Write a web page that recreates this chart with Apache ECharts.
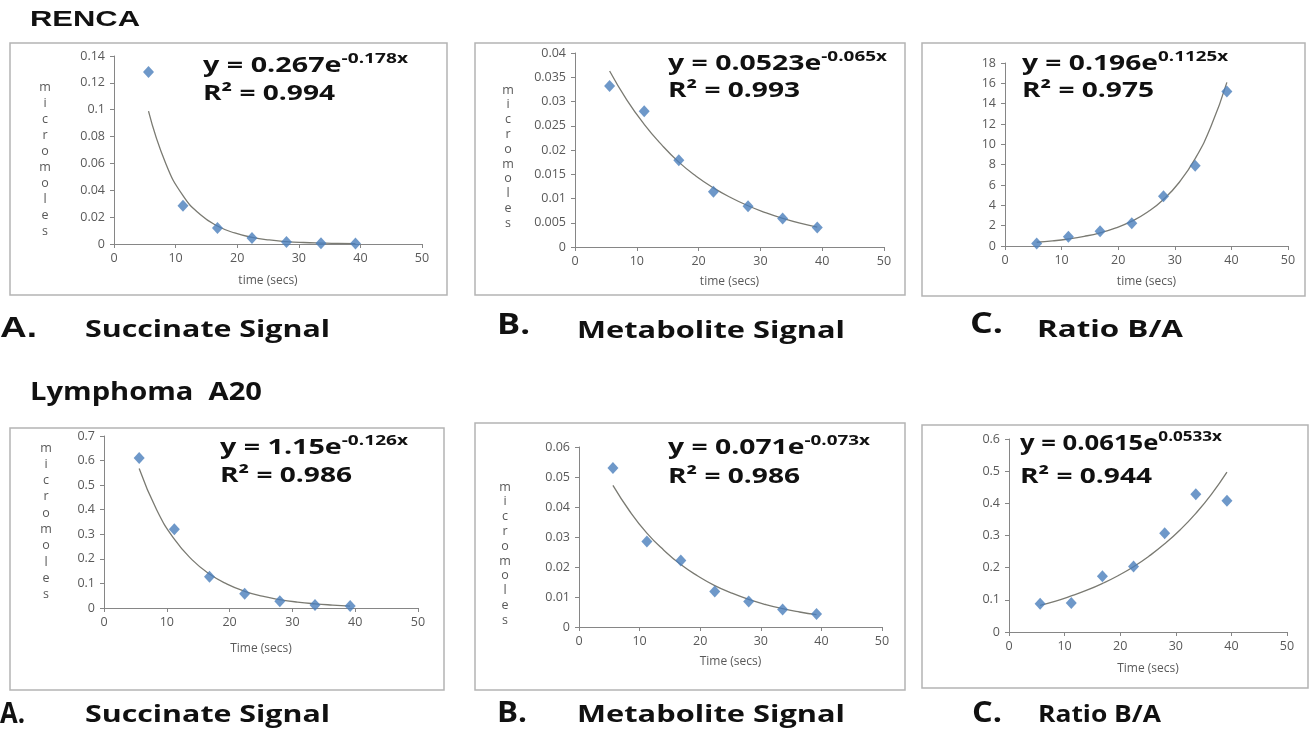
<!DOCTYPE html>
<html>
<head>
<meta charset="utf-8">
<script src="https://cdn.jsdelivr.net/npm/echarts@6.0.0/dist/echarts.min.js"></script>
<style>
  html, body { margin: 0; padding: 0; background: #fff; }
  #main { width: 1314px; height: 729px; }
</style>
</head>
<body>
<div id="main"></div>
<script>
// sample times (secs)
const time = [5.6, 11.2, 16.8, 22.4, 28, 33.6, 39.2];

// measured points, micromoles / ratio
const rencaSuccinate = [0.128, 0.0285, 0.012, 0.0045, 0.0015, 0.0005, 0.0003];
const rencaMetabolite = [0.0332, 0.028, 0.0179, 0.0114, 0.0084, 0.0059, 0.004];
const rencaRatio = [0.25, 0.9, 1.45, 2.25, 4.9, 7.9, 15.2];
const a20Succinate = [0.61, 0.32, 0.127, 0.058, 0.027, 0.012, 0.008];
const a20Metabolite = [0.053, 0.0285, 0.0222, 0.0118, 0.0085, 0.0058, 0.0043];
const a20Ratio = [0.088, 0.09, 0.173, 0.204, 0.307, 0.428, 0.408];

// trendline
const fitTime = [5.6, 8.4, 11.2, 14, 16.8, 19.6, 22.4, 25.2, 28, 30.8, 33.6, 36.4, 39.2];
const rencaSuccinateFit = [0.099, 0.060, 0.036, 0.022, 0.0134, 0.0082, 0.005, 0.003, 0.0018, 0.0011, 0.0007, 0.0004, 0.0003];
const rencaMetaboliteFit = [0.0363, 0.0303, 0.0253, 0.0211, 0.0175, 0.0146, 0.0122, 0.0102, 0.0085, 0.0071, 0.0059, 0.0049, 0.0041];
const rencaRatioFit = [0.37, 0.5, 0.69, 0.95, 1.3, 1.78, 2.44, 3.34, 4.57, 6.27, 8.59, 11.77, 16.1];
const a20SuccinateFit = [0.568, 0.399, 0.28, 0.197, 0.138, 0.097, 0.068, 0.048, 0.034, 0.024, 0.017, 0.012, 0.008];
const a20MetaboliteFit = [0.0472, 0.0385, 0.0313, 0.0256, 0.0208, 0.017, 0.0138, 0.0113, 0.0092, 0.0075, 0.0061, 0.005, 0.0041];
const a20RatioFit = [0.083, 0.096, 0.112, 0.13, 0.151, 0.175, 0.203, 0.236, 0.274, 0.318, 0.369, 0.428, 0.497];

// y axis ticks
const yMax = [0.14, 0.04, 18, 0.7, 0.06, 0.6];
const yStep = [0.02, 0.005, 2, 0.1, 0.01, 0.1];
const xMax = 50, xStep = 10;

// trendline equations (main, exponent, r2)
const equations = [
    ['y = 0.267e', '-0.178x', 'R\u00b2 = 0.994'],
    ['y = 0.0523e', '-0.065x', 'R\u00b2 = 0.993'],
    ['y = 0.196e', '0.1125x', 'R\u00b2 = 0.975'],
    ['y = 1.15e', '-0.126x', 'R\u00b2 = 0.986'],
    ['y = 0.071e', '-0.073x', 'R\u00b2 = 0.986'],
    ['y = 0.0615e', '0.0533x', 'R\u00b2 = 0.944']
];

const points = [rencaSuccinate, rencaMetabolite, rencaRatio, a20Succinate, a20Metabolite, a20Ratio];
const fits = [rencaSuccinateFit, rencaMetaboliteFit, rencaRatioFit, a20SuccinateFit, a20MetaboliteFit, a20RatioFit];

// panel layout: grid [l,t,w,h], box, equation [x, cy1, cy2, w1, w2], micromoles [x, y, step]
const layout = [
    { grid: [114, 56, 308, 188], box: [10, 43, 437, 252], eq: [203, 66, 94, 205, 132], yName: [45, 87, 16], xGap: 31, xName: 'time (secs)' },
    { grid: [575, 53, 309, 194], box: [475, 43, 430, 252], eq: [668, 64, 91, 219, 132], yName: [508, 90, 14.8], xGap: 29, xName: 'time (secs)' },
    { grid: [1005, 63, 283, 183], box: [922, 43, 383, 253], eq: [1022, 64, 91, 206, 132], yName: null, xGap: 30, xName: 'time (secs)' },
    { grid: [104, 436, 314, 172], box: [10, 428, 434, 262], eq: [220, 448, 476, 188, 132], yName: [46, 448, 16.3], xGap: 35, xName: 'Time (secs)' },
    { grid: [579, 447, 303, 180], box: [475, 423, 430, 267], eq: [668, 448, 477, 202, 132], yName: [505, 487, 14.8], xGap: 29, xName: 'Time (secs)' },
    { grid: [1009, 439, 278, 193], box: [922, 425, 386, 263], eq: [1020, 444, 477, 202, 132], yName: null, xGap: 31, xName: 'Time (secs)' }
];

// headings: text, x, cy, width, size, family
const headings = [
    ['RENCA', 30, 20, 110, 22, 'Liberation Sans'],
    ['A.', 0, 329, 37, 30, 'Liberation Sans'],
    ['Succinate Signal', 85, 330, 245, 24, 'Open Sans'],
    ['B.', 497, 326, 33, 28, 'Open Sans'],
    ['Metabolite Signal', 577, 331, 268, 24, 'Open Sans'],
    ['C.', 970, 325, 33, 28, 'Open Sans'],
    ['Ratio B/A', 1037, 330, 146, 24, 'Open Sans'],
    ['Lymphoma  A20', 30, 393, 232, 25, 'Open Sans'],
    ['A.', 0, 715, 25, 28, 'Open Sans'],
    ['Succinate Signal', 85, 715, 245, 24, 'Open Sans'],
    ['B.', 497, 714, 30, 28, 'Open Sans'],
    ['Metabolite Signal', 577, 715, 268, 24, 'Open Sans'],
    ['C.', 972, 714, 30, 28, 'Open Sans'],
    ['Ratio B/A', 1038, 715, 123, 24, 'Open Sans']
];

const axisGray = '#868686';
const labelGray = '#595959';
const ctx = document.createElement('canvas').getContext('2d');

function measure(text, size, family) {
    ctx.font = 'bold ' + size + 'px "' + family + '"';
    return ctx.measureText(text).width;
}

function heading(h) {
    const sx = h[3] / measure(h[0], h[4], h[5]);
    return {
        type: 'text', x: h[1], y: h[2], scaleX: sx, z: 10,
        style: { text: h[0], fill: '#111', fontSize: h[4], fontWeight: 'bold', fontFamily: h[5], verticalAlign: 'middle' }
    };
}

const grids = [], xAxes = [], yAxes = [], series = [], graphics = [];

layout.forEach(function (p, i) {
    grids.push({ left: p.grid[0], top: p.grid[1], width: p.grid[2], height: p.grid[3] });
    xAxes.push({
        type: 'value', gridIndex: i, min: 0, max: xMax, interval: xStep,
        name: p.xName, nameLocation: 'middle', nameGap: p.xGap,
        nameTextStyle: { color: labelGray, fontSize: 12, fontFamily: 'Open Sans' },
        axisLine: { lineStyle: { color: axisGray } },
        axisTick: { show: true, length: 4, lineStyle: { color: axisGray } },
        axisLabel: { color: labelGray, fontSize: 12.5, fontFamily: 'Open Sans', margin: 8 },
        splitLine: { show: false }
    });
    yAxes.push({
        type: 'value', gridIndex: i, min: 0, max: yMax[i], interval: yStep[i],
        axisLine: { show: true, lineStyle: { color: axisGray } },
        axisTick: { show: true, length: 4, lineStyle: { color: axisGray } },
        axisLabel: { color: labelGray, fontSize: 12.5, fontFamily: 'Open Sans', margin: 9 },
        splitLine: { show: false }
    });
    series.push({
        type: 'line', xAxisIndex: i, yAxisIndex: i, smooth: true, showSymbol: false,
        lineStyle: { color: '#7a7a72', width: 1.3 },
        data: fitTime.map(function (t, k) { return [t, fits[i][k]]; })
    });
    series.push({
        type: 'scatter', xAxisIndex: i, yAxisIndex: i, symbol: 'diamond', symbolSize: [11, 12], z: 5,
        itemStyle: { color: '#4a7ebb' },
        data: time.map(function (t, k) { return [t, points[i][k]]; })
    });

    // chart area border
    graphics.push({
        type: 'rect', shape: { x: p.box[0], y: p.box[1], width: p.box[2], height: p.box[3] },
        style: { fill: 'none', stroke: '#b4b4b4', lineWidth: 1.5 }, z: 1
    });

    // trendline equation
    const eq = equations[i];
    const w1 = measure(eq[0], 21, 'Open Sans') + measure(eq[1], 14, 'Open Sans');
    graphics.push({
        type: 'text', x: p.eq[0], y: p.eq[1], scaleX: p.eq[3] / w1, z: 10,
        style: {
            text: '{m|' + eq[0] + '}{s|' + eq[1] + '}', verticalAlign: 'middle',
            rich: {
                m: { fontSize: 21, fontWeight: 'bold', fontFamily: 'Open Sans', fill: '#111', lineHeight: 28 },
                s: { fontSize: 14, fontWeight: 'bold', fontFamily: 'Open Sans', fill: '#111', lineHeight: 12, verticalAlign: 'top' }
            }
        }
    });
    graphics.push({
        type: 'text', x: p.eq[0], y: p.eq[2], scaleX: p.eq[4] / measure(eq[2], 21, 'Open Sans'), z: 10,
        style: { text: eq[2], fontSize: 21, fontWeight: 'bold', fontFamily: 'Open Sans', fill: '#111', verticalAlign: 'middle' }
    });

    // stacked y axis title
    if (p.yName) {
        graphics.push({
            type: 'text', x: p.yName[0], y: p.yName[1] - p.yName[2] / 2, z: 10,
            style: {
                text: 'micromoles'.split('').join('\n'), fill: labelGray, fontSize: 12.5, fontFamily: 'Open Sans',
                lineHeight: p.yName[2], align: 'center', verticalAlign: 'top'
            }
        });
    }
});

headings.forEach(function (h) { graphics.push(heading(h)); });

const chart = echarts.init(document.getElementById('main'));
chart.setOption({
    backgroundColor: '#fff',
    animation: false,
    grid: grids,
    xAxis: xAxes,
    yAxis: yAxes,
    series: series,
    graphic: graphics
});
</script>
</body>
</html>
